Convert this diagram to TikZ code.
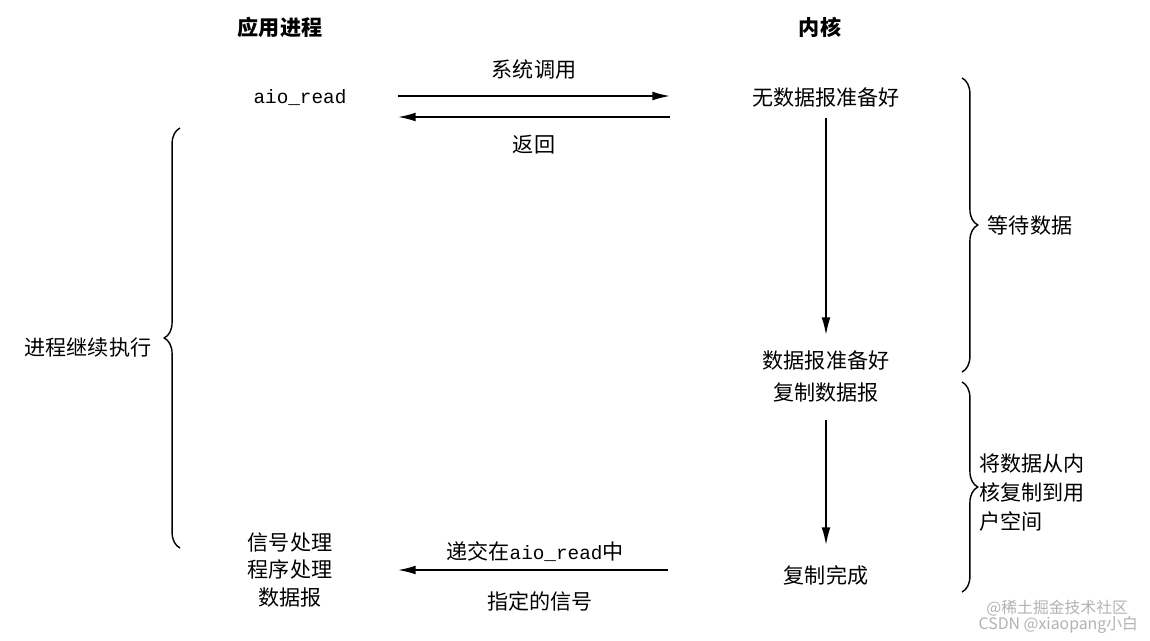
\documentclass[tikz,border=0pt]{standalone}
\usepackage{fontspec}
\setmainfont{Noto Sans CJK SC}
\setmonofont{Liberation Mono}
\usetikzlibrary{decorations.pathreplacing,arrows.meta}
\begin{document}
\begin{tikzpicture}[x=0.02cm,y=-0.02cm,
  txt/.style={font=\fontsize{12}{14}\selectfont, inner sep=1pt},
  hd/.style={font=\fontsize{12}{14}\selectfont\bfseries, inner sep=1pt},
  arr/.style={-{Latex[length=10pt,width=5pt]}, line width=0.9pt},
  br/.style={decorate, decoration={brace, amplitude=9pt}, line width=0.8pt}]
\useasboundingbox (0,0) rectangle (1150,640);
\node[hd] (app) at (280,27) {应用进程};
\node[hd] (ker) at (820,27) {内核};
\node[txt,font=\fontsize{11}{12}\selectfont\ttfamily] (aio) at (300,98) {aio\_read};
\coordinate (s1) at (398,96); \coordinate (e1) at (670,96);
\draw[arr] (s1) -- (e1) node[midway, above=8pt, txt] (call) {系统调用};
\coordinate (s2) at (670,117); \coordinate (e2) at (398,117);
\draw[arr] (s2) -- (e2) node[midway, below=9pt, txt] (ret) {返回};
\node[txt] (nodata) at (826,97) {无数据报准备好};
\node[txt] (ready) at (826,360) {数据报准备好};
\node[txt] (copy) at (826,393) {复制数据报};
\node[txt] (done) at (826,575) {复制完成};
\draw[arr] (826,118) coordinate (a1) -- (826,335) coordinate (a2);
\draw[arr] (826,420) coordinate (b1) -- (826,545) coordinate (b2);
\coordinate (s3) at (668,570); \coordinate (e3) at (398,570);
\draw[arr] (s3) -- (e3);
\node[txt] (deliver) at (535,552) {递交在{\fontsize{11}{12}\selectfont\texttt{aio\_read}}中};
\node[txt] (sig) at (540,601) {指定的信号};
\node[txt, align=center, font=\fontsize{12}{15.5}\selectfont] (handler) at (290,570) {信号处理\\程序处理\\数据报};
\draw[br] (180,548) coordinate (l1) -- (180,128) coordinate (l2);
\node[txt] (cont) at (88,348) {进程继续执行};
\draw[br] (962,78) coordinate (r1) -- (962,372) coordinate (r2);
\node[txt] (wait) at (1030,225) {等待数据};
\draw[br] (962,382) coordinate (r3) -- (962,592) coordinate (r4);
\node[txt, align=left, anchor=west, font=\fontsize{12}{16.5}\selectfont] (cp) at (977,493) {将数据从内\\核复制到用\\户空间};
\node[txt, text=gray!60, font=\fontsize{9}{11}\selectfont, anchor=east] (wm1) at (1130,608) {@稀土掘金技术社区};
\node[txt, text=gray!60, font=\fontsize{9}{11}\selectfont, anchor=east] (wm2) at (1140,625) {CSDN @xiaopang小白};
\end{tikzpicture}
\end{document}
